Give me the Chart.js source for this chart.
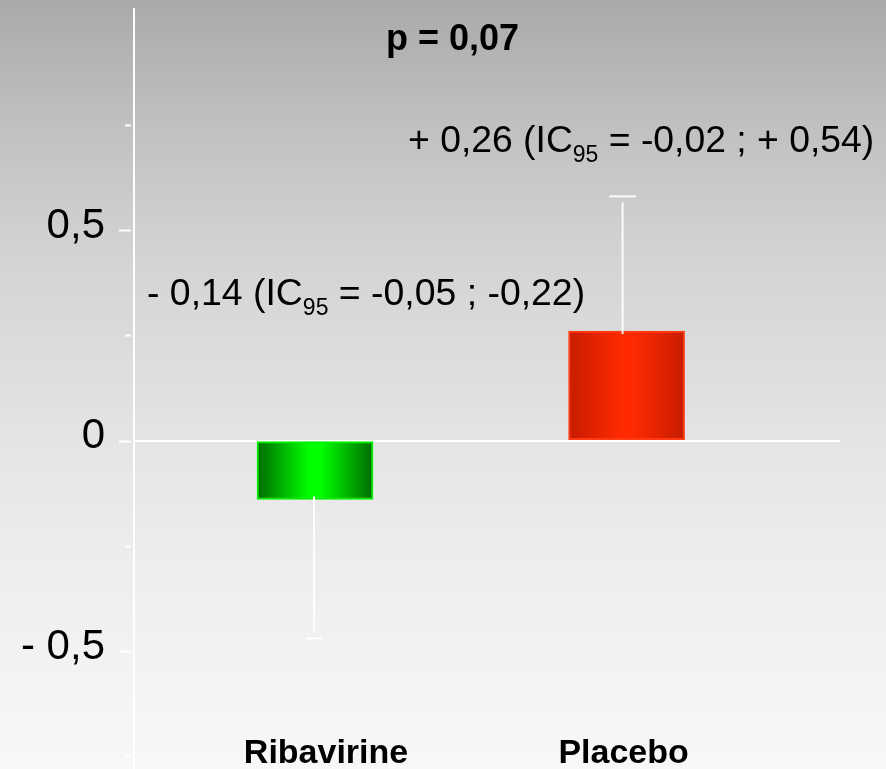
<!DOCTYPE html>
<html>
<head>
<meta charset="utf-8">
<script src="https://cdn.jsdelivr.net/npm/chart.js@4/dist/chart.umd.min.js"></script>
<style>
  html, body { margin: 0; padding: 0; background: #f8f8f8; }
  #wrap { width: 886px; height: 769px; position: relative; }
  canvas { display: block; }
</style>
</head>
<body>
<div id="wrap"><canvas id="chart" width="886" height="769"></canvas></div>
<script>
// Mean change from baseline per treatment arm
const groups = ['Ribavirine', 'Placebo'];
const meanChange = [-0.14, 0.26];
const whiskerEnd = [-0.47, 0.58];

// Y axis ticks and their labels (only half units carry text)
const yTicks = [-0.75, -0.5, -0.25, 0, 0.25, 0.5, 0.75];
const yTickValues = [0.5, 0, -0.5];
const yTickTexts = ['0,5', '0', '- 0,5'];

// Annotations: parts flagged sub are drawn as subscript
const pValueText = 'p = 0,07';
const ribavirineNote = [{ t: '- 0,14 (IC' }, { t: '95', sub: true }, { t: ' = -0,05 ; -0,22)' }];
const placeboNote = [{ t: '+ 0,26 (IC' }, { t: '95', sub: true }, { t: ' = -0,02 ; + 0,54)' }];

// Styling
const FONT = '"Liberation Sans", Arial, Helvetica, sans-serif';
const barEdge = ['#006a00', '#c61c00'];
const barMid = ['#00ff00', '#ff2a00'];
const barBorder = ['#00f000', '#ff3a12'];
const capWidths = [17, 27];
const whiskerShift = [-1, -4];
const labelShift = [11, -3];

const backgroundPlugin = {
  id: 'pageBackground',
  beforeDraw(chart) {
    const { ctx, width, height } = chart;
    const g = ctx.createLinearGradient(0, 0, 0, height);
    g.addColorStop(0, '#aaaaaa');
    g.addColorStop(0.17, '#c1c1c1');
    g.addColorStop(0.34, '#d4d4d4');
    g.addColorStop(0.57, '#e4e4e4');
    g.addColorStop(0.7, '#ececec');
    g.addColorStop(1, '#f8f8f8');
    ctx.save();
    ctx.fillStyle = g;
    ctx.fillRect(0, 0, width, height);
    ctx.restore();
  }
};

function drawRich(ctx, parts, x, y, size, subSize, subDrop) {
  let cx = x;
  ctx.textAlign = 'left';
  ctx.textBaseline = 'alphabetic';
  parts.forEach(p => {
    ctx.font = (p.sub ? subSize : size) + 'px ' + FONT;
    ctx.fillText(p.t, cx, p.sub ? y + subDrop : y);
    cx += ctx.measureText(p.t).width;
  });
}

const overlayPlugin = {
  id: 'overlay',
  afterDatasetsDraw(chart) {
    const { ctx, chartArea } = chart;
    const ys = chart.scales.y;
    const meta = chart.getDatasetMeta(0);
    ctx.save();

    // tick marks just left of the axis line
    ctx.strokeStyle = '#ffffff';
    ctx.lineWidth = 2;
    yTicks.forEach(v => {
      const y = Math.round(ys.getPixelForValue(v)) + 0.5;
      const major = yTickValues.includes(v);
      ctx.beginPath();
      ctx.moveTo(chartArea.left - (major ? 15 : 9), y);
      ctx.lineTo(chartArea.left - 3, y);
      ctx.stroke();
    });

    // whiskers
    ctx.strokeStyle = 'rgba(255,255,255,0.92)';
    meta.data.forEach((bar, i) => {
      const x = bar.x + whiskerShift[i];
      const yBar = ys.getPixelForValue(meanChange[i]);
      const yEnd = ys.getPixelForValue(whiskerEnd[i]);
      const dir = Math.sign(yEnd - yBar);
      ctx.lineWidth = 2;
      ctx.beginPath();
      ctx.moveTo(x, yBar - dir * 3);
      ctx.lineTo(x, yEnd - dir * 6);
      ctx.stroke();
      ctx.beginPath();
      ctx.moveTo(x - capWidths[i] / 2, yEnd);
      ctx.lineTo(x + capWidths[i] / 2, yEnd);
      ctx.stroke();
    });

    // category names under the bars
    ctx.fillStyle = '#000000';
    ctx.font = 'bold 34px ' + FONT;
    ctx.textAlign = 'center';
    ctx.textBaseline = 'alphabetic';
    meta.data.forEach((bar, i) => {
      ctx.fillText(groups[i], bar.x + labelShift[i], 763);
    });

    // p value and effect annotations
    ctx.font = 'bold 36px ' + FONT;
    ctx.textAlign = 'left';
    ctx.fillText(pValueText, 386, 50);
    drawRich(ctx, placeboNote, 408, 152, 37.3, 23, 10);
    drawRich(ctx, ribavirineNote, 147, 305, 37.4, 23, 10);

    ctx.restore();
  }
};

function barFill(context) {
  const i = context.dataIndex;
  const chart = context.chart;
  const xs = chart.scales.x;
  if (!xs || !chart.chartArea || i === undefined) return barMid[i || 0];
  const cx = xs.getPixelForValue(i + 1);
  const half = 58;
  const g = chart.ctx.createLinearGradient(cx - half, 0, cx + half, 0);
  g.addColorStop(0, barEdge[i]);
  g.addColorStop(0.45, barMid[i]);
  g.addColorStop(0.55, barMid[i]);
  g.addColorStop(1, barEdge[i]);
  return g;
}

new Chart(document.getElementById('chart'), {
  type: 'bar',
  data: {
    datasets: [{
      data: meanChange.map((v, i) => ({ x: i + 1, y: v })),
      backgroundColor: barFill,
      borderColor: barBorder,
      borderWidth: 2,
      borderSkipped: false,
      barThickness: 116
    }]
  },
  options: {
    responsive: false,
    animation: false,
    layout: { padding: { left: 21, right: 46, top: 9, bottom: 0 } },
    plugins: { legend: { display: false }, tooltip: { enabled: false } },
    scales: {
      x: {
        type: 'linear',
        display: false,
        offset: false,
        min: 0.419,
        max: 2.685
      },
      y: {
        min: -0.78,
        max: 1.025,
        afterBuildTicks(scale) {
          scale.ticks = yTicks.map(v => ({ value: v }));
        },
        afterFit(scale) {
          // axis band: widest label (84px) plus label gap
          scale.width = 113;
          scale.paddingTop = 0;
          scale.paddingBottom = 0;
        },
        grid: {
          drawTicks: false,
          lineWidth: 2,
          color: ctx => (ctx.tick && ctx.tick.value === 0 ? '#ffffff' : 'rgba(0,0,0,0)')
        },
        border: { display: true, color: '#ffffff', width: 2 },
        ticks: {
          padding: 29,
          color: '#000000',
          font: { family: FONT, size: 42 },
          labelOffset: -4,
          callback: v => {
            const k = yTickValues.indexOf(v);
            return k >= 0 ? yTickTexts[k] : '';
          }
        }
      }
    }
  },
  plugins: [backgroundPlugin, overlayPlugin]
});
</script>
</body>
</html>
